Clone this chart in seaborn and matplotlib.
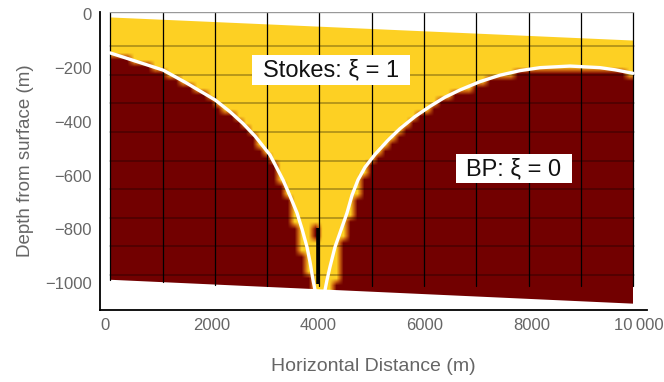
import numpy as np
import matplotlib
matplotlib.use("Agg")
import matplotlib.pyplot as plt
import seaborn as sns
import pandas as pd
from matplotlib.patches import Polygon, Rectangle
from matplotlib.colors import LinearSegmentedColormap

# ---------------- data ----------------
domain_x = [100, 9900]
surface_d = [-11, -97]
bottom_d = [-988, -1077]

left_curve_x = [94, 562, 1087, 1500, 1781, 2062, 2343, 2587, 2812, 3093, 3336, 3468,
                3599, 3693, 3786, 3843, 3899, 3936]
left_curve_d = [-143, -173, -207, -252, -285, -318, -362, -406, -453, -523, -616, -676,
                -739, -799, -866, -922, -989, -1026]
right_curve_x = [4124, 4161, 4217, 4311, 4424, 4536, 4630, 4742, 4873, 5061, 5305, 5530,
                 5811, 6092, 6373, 6654, 7029, 7404, 7779, 8154, 8716, 9278, 9559, 9897]
right_curve_d = [-1026, -989, -940, -866, -802, -739, -673, -616, -569, -521, -468, -425,
                 -380, -342, -308, -281, -250, -226, -209, -198, -192, -198, -206, -219]

# interface between Stokes (yellow, xi=1) and BP (dark red, xi=0) in the field
field_x = [100, 562, 1087, 1500, 1781, 2062, 2343, 2587, 2812, 3093, 3336, 3505, 3711,
           3843, 3900, 4100, 4311, 4405, 4498, 4592, 4723, 4873, 5061, 5305, 5530, 5811,
           6092, 6373, 6654, 7029, 7404, 7779, 8154, 8716, 9278, 9559, 9900]
field_d = [-158, -185, -222, -265, -298, -332, -376, -420, -468, -540, -640, -750, -930,
           -1000, -1100, -1100, -1000, -933, -784, -747, -691, -585, -535, -482, -438,
           -392, -355, -320, -293, -262, -238, -221, -210, -205, -210, -218, -235]
red_blob_x = [3850, 4060]
red_blob_d = [-830, -775]
black_seg_x = [3993, 3993]
black_seg_d = [-795, -1003]

grid_x = [100 + 980 * k for k in range(11)]
grid_d = [-11 - 106.6 * k for k in range(1, 10)]

x_ticks = [0, 2000, 4000, 6000, 8000, 10000]
x_tick_labels = ["0", "2000", "4000", "6000", "8000", "10\u2009000"]
y_ticks = [0, -200, -400, -600, -800, -1000]
y_tick_labels = ["0", "\u2212200", "\u2212400", "\u2212600", "\u2212800", "\u22121000"]

# ---------------- figure ----------------
sns.set_style("white")
plt.rcParams['font.family'] = ['Liberation Sans', 'DejaVu Sans']

W, H = 664, 382
fig = plt.figure(figsize=(W / 100, H / 100), dpi=100)
ax = fig.add_axes([100 / W, 1 - 310 / H, (647 - 100) / W, (310 - 12) / H])
ax.set_xlim(-94, 10159)
ax.set_ylim(-1100.6, 9.3)

# field
cx = np.arange(100 + 65, 9900, 130.0)
cd = np.arange(-1100 + 13, 0, 26.0)
XX, DD = np.meshgrid(cx, cd)
bnd = np.interp(XX, field_x, field_d)
val = (DD > bnd).astype(float)
blob = (XX > red_blob_x[0]) & (XX < red_blob_x[1]) & (DD > red_blob_d[0]) & (DD < red_blob_d[1])
val[blob] = 0.0
cmap = LinearSegmentedColormap.from_list("xi", ["#720000", "#c8600e", "#fdd023"])
im = ax.imshow(val, extent=[100, 9900, -1100, 0], origin="lower", cmap=cmap,
               vmin=0, vmax=1, interpolation="bilinear", aspect="auto", zorder=1)
poly = Polygon([(domain_x[0], surface_d[0]), (domain_x[1], surface_d[1]),
                (domain_x[1], bottom_d[1]), (domain_x[0], bottom_d[0])],
               closed=True, transform=ax.transData, facecolor="none", edgecolor="none")
ax.add_patch(poly)
im.set_clip_path(poly)

# mesh lines
for gd in grid_d:
    ax.plot([100, 9915], [gd, gd], color="black", alpha=0.35, lw=1.1, zorder=2)
for gx in grid_x:
    yb = np.interp(gx, domain_x, bottom_d)
    ax.plot([gx, gx], [8.5, max(yb, -1012)], color="black", lw=0.9, zorder=2)
ax.plot([100, 9900], [8.5, 8.5], color="#999999", lw=1.0, zorder=2)

ax.plot(black_seg_x, black_seg_d, color="black", lw=2.6, zorder=3, solid_capstyle="butt")

# white boundary curves
lc = pd.DataFrame({"x": left_curve_x, "d": left_curve_d})
rc = pd.DataFrame({"x": right_curve_x, "d": right_curve_d})
sns.lineplot(data=lc, x="x", y="d", sort=False, color="white", lw=2.4, ax=ax, zorder=4)
sns.lineplot(data=rc, x="x", y="d", sort=False, color="white", lw=2.4, ax=ax, zorder=4)

# labels in white boxes
ax.add_patch(Rectangle((2755, -263), 5717 - 2755, 112, facecolor="white",
                       edgecolor="none", zorder=5))
ax.add_patch(Rectangle((6579, -628), 8753 - 6579, 108, facecolor="white",
                       edgecolor="none", zorder=5))
ax.text(4236, -209, "Stokes: \u03be = 1", fontsize=17, ha="center", va="center",
        color="#111111", zorder=6)
ax.text(7666, -576, "BP: \u03be = 0", fontsize=17, ha="center", va="center",
        color="#111111", zorder=6)

# axes styling
for s in ["top", "right"]:
    ax.spines[s].set_visible(False)
for s in ["left", "bottom"]:
    ax.spines[s].set_color("black")
    ax.spines[s].set_linewidth(1.3)
ax.set_xticks(x_ticks)
ax.set_xticklabels(x_tick_labels)
ax.set_yticks(y_ticks)
ax.set_yticklabels(y_tick_labels)
ax.set_xticks(np.arange(0, 10001, 500), minor=True)
ax.set_yticks(np.arange(-1100, 1, 50), minor=True)
ax.tick_params(which="major", direction="in", length=5, width=1.2, color="#444444",
               labelsize=12, labelcolor="#666666", pad=6)
ax.tick_params(which="minor", direction="in", length=2.5, width=1.0, color="#444444")
ax.set_xlabel("Horizontal Distance (m)", fontsize=14, color="#666666", labelpad=18)
ax.set_ylabel("Depth from surface (m)", fontsize=13.5, color="#666666", labelpad=8)
ax.grid(False)
ax.set_facecolor("white")

fig.savefig("out.png", dpi=100)
